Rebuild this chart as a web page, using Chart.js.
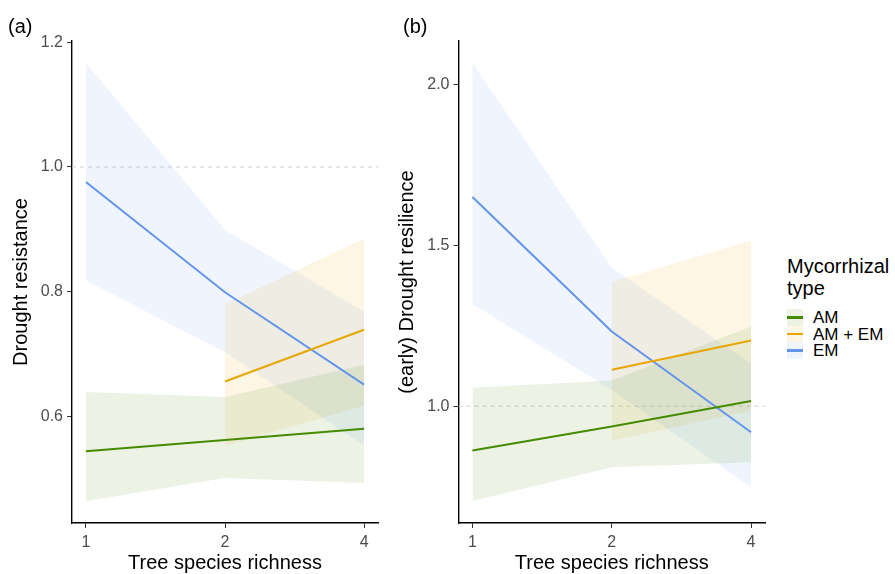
<!DOCTYPE html>
<html>
<head>
<meta charset="utf-8">
<script src="https://cdn.jsdelivr.net/npm/chart.js@4.4.1/dist/chart.umd.min.js"></script>
<style>
  body { margin: 0; background: #fff; font-family: "Liberation Sans", Arial, sans-serif; }
  #wrap { position: relative; width: 895px; height: 574px; overflow: hidden; }
  canvas { position: absolute; top: 0; }
  .tag { position: absolute; font-size: 20px; line-height: 20px; color: #000; }
  .legend-title { position: absolute; left: 787px; top: 255px; font-size: 20px; line-height: 22px; color: #000; }
  .key { position: absolute; left: 787px; width: 16px; height: 16.5px; }
  .key span { position: absolute; left: 0; right: 0; top: 7px; height: 2.5px; }
  .key-label { position: absolute; left: 813px; font-size: 17px; line-height: 17px; color: #000; white-space: nowrap; }
</style>
</head>
<body>
<div id="wrap">
  <canvas id="panelA" width="385" height="574" style="left:0px"></canvas>
  <canvas id="panelB" width="400" height="574" style="left:386px"></canvas>
  <div class="tag" style="left:8px; top:16px">(a)</div>
  <div class="tag" style="left:403px; top:16px">(b)</div>
  <div class="legend-title">Mycorrhizal<br>type</div>
  <div id="legend"></div>
</div>
<script>
// x values (tree species richness)
const richness = [1, 2, 4];
const richnessMix = [2, 4];
const groups = ['AM', 'AM + EM', 'EM'];

// (a) Drought resistance
const amMeanA = [0.544, 0.562, 0.580];
const amLowA  = [0.464, 0.501, 0.493];
const amHighA = [0.639, 0.631, 0.683];
const mixMeanA = [0.656, 0.739];
const mixLowA  = [0.552, 0.617];
const mixHighA = [0.780, 0.885];
const emMeanA = [0.976, 0.799, 0.651];
const emLowA  = [0.818, 0.703, 0.553];
const emHighA = [1.167, 0.899, 0.768];
const yTicksA = [0.6, 0.8, 1.0, 1.2];

// (b) (early) Drought resilience
const amMeanB = [0.862, 0.937, 1.016];
const amLowB  = [0.705, 0.810, 0.826];
const amHighB = [1.057, 1.080, 1.248];
const mixMeanB = [1.113, 1.204];
const mixLowB  = [0.893, 0.986];
const mixHighB = [1.386, 1.515];
const emMeanB = [1.650, 1.232, 0.919];
const emLowB  = [1.318, 1.050, 0.748];
const emHighB = [2.067, 1.430, 1.133];
const yTicksB = [1.0, 1.5, 2.0];

const refValue = 1.0;

const lineColors = ['#458B00', '#E8A700', '#6495ED'];
const ribbonColors = ['rgba(69,139,0,0.1)', 'rgba(232,167,0,0.1)', 'rgba(100,149,237,0.1)'];

Chart.defaults.font.family = '"Liberation Sans", Arial, sans-serif';

function pts(xs, ys) {
  return xs.map((x, i) => ({ x: x, y: ys[i] }));
}

// dashed reference line at y = 1
const refLine = {
  id: 'refLine',
  beforeDatasetsDraw(chart) {
    const { ctx, chartArea, scales } = chart;
    const y = scales.y.getPixelForValue(refValue);
    ctx.save();
    ctx.strokeStyle = '#CFCFCF';
    ctx.lineWidth = 1;
    ctx.setLineDash([4, 4]);
    ctx.beginPath();
    ctx.moveTo(chartArea.left, y);
    ctx.lineTo(chartArea.right, y);
    ctx.stroke();
    ctx.restore();
  }
};

function makePanel(id, series, yTicks, yMin, yMax, yTitle, yWidth, padRight, titlePad) {
  const datasets = [];
  // ribbons: upper filled down to lower
  series.forEach((s, i) => {
    datasets.push({
      data: pts(s.xs, s.high), fill: '+1', backgroundColor: ribbonColors[i],
      borderColor: 'rgba(0,0,0,0)', borderWidth: 0, pointRadius: 0, order: 2
    });
    datasets.push({
      data: pts(s.xs, s.low), fill: false,
      borderColor: 'rgba(0,0,0,0)', borderWidth: 0, pointRadius: 0, order: 2
    });
  });
  // mean lines on top
  series.forEach((s, i) => {
    datasets.push({
      data: pts(s.xs, s.mean), fill: false, borderColor: lineColors[i],
      borderWidth: 2, pointRadius: 0, order: 1
    });
  });

  const axisGrid = { display: true, drawOnChartArea: false, drawTicks: true, tickLength: 5, color: '#333333', lineWidth: 1 };
  const axisBorder = { display: true, color: '#000000', width: 1.4 };

  return new Chart(document.getElementById(id), {
    type: 'line',
    data: { datasets: datasets },
    options: {
      responsive: false,
      animation: false,
      devicePixelRatio: 1,
      layout: { padding: { left: 0, right: padRight, top: 41, bottom: 0 } },
      plugins: { legend: { display: false }, tooltip: { enabled: false } },
      scales: {
        x: {
          type: 'logarithmic',
          min: Math.pow(2, -0.1),
          max: Math.pow(2, 2.1),
          afterBuildTicks: s => { s.ticks = richness.map(v => ({ value: v })); },
          afterFit: s => { s.height = 51; },
          ticks: { callback: v => String(v), font: { size: 16 }, color: '#4D4D4D', padding: 5, autoSkip: false, maxRotation: 0 },
          grid: axisGrid,
          border: axisBorder,
          title: { display: true, text: 'Tree species richness', color: '#000', font: { size: 20, lineHeight: 1 }, padding: { top: 0, bottom: 1 } }
        },
        y: {
          type: 'linear',
          min: yMin,
          max: yMax,
          afterBuildTicks: s => { s.ticks = yTicks.map(v => ({ value: v })); },
          afterFit: s => { s.width = yWidth; },
          ticks: { callback: v => Number(v).toFixed(1), font: { size: 16 }, color: '#4D4D4D', padding: 4 },
          grid: axisGrid,
          border: axisBorder,
          title: { display: true, text: yTitle, color: '#000', font: { size: 20, lineHeight: 1 }, padding: { top: titlePad, bottom: 0 } }
        }
      }
    },
    plugins: [refLine]
  });
}

makePanel('panelA', [
  { xs: richness, mean: amMeanA, low: amLowA, high: amHighA },
  { xs: richnessMix, mean: mixMeanA, low: mixLowA, high: mixHighA },
  { xs: richness, mean: emMeanA, low: emLowA, high: emHighA }
], yTicksA, 0.429, 1.202, 'Drought resistance', 72, 7, 11);

makePanel('panelB', [
  { xs: richness, mean: amMeanB, low: amLowB, high: amHighB },
  { xs: richnessMix, mean: mixMeanB, low: mixLowB, high: mixHighB },
  { xs: richness, mean: emMeanB, low: emLowB, high: emHighB }
], yTicksB, 0.637, 2.135, '(early) Drought resilience', 72.5, 21, 11);

// legend
const legend = document.getElementById('legend');
groups.forEach((g, i) => {
  const top = 309 + i * 16.5;
  const key = document.createElement('div');
  key.className = 'key';
  key.style.top = top + 'px';
  key.style.background = ribbonColors[i];
  key.innerHTML = '<span style="background:' + lineColors[i] + '"></span>';
  legend.appendChild(key);
  const lab = document.createElement('div');
  lab.className = 'key-label';
  lab.style.top = top + 'px';
  lab.textContent = g;
  legend.appendChild(lab);
});
</script>
</body>
</html>
